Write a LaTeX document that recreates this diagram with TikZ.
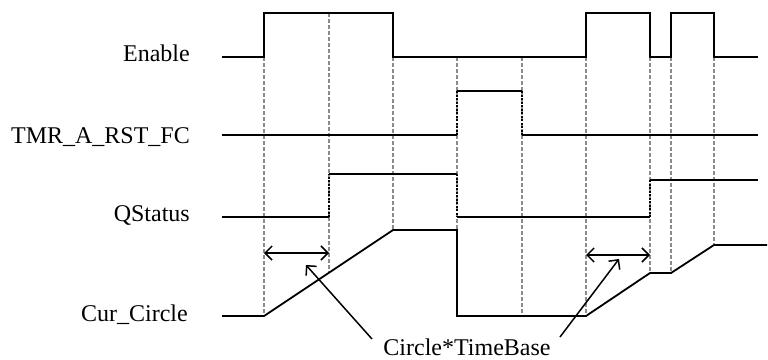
\documentclass[tikz,border=0pt]{standalone}
\usepackage{fontspec}
\setmainfont{Liberation Serif}
\usetikzlibrary{arrows.meta}
\begin{document}
\begin{tikzpicture}[x=1pt,y=-1pt,
  wave/.style={line width=1.8pt, line join=miter},
  guide/.style={draw=black!45, line width=1.2pt, dash pattern=on 4pt off 2pt},
  edgeline/.style={line width=1.5pt, dash pattern=on 2pt off 1.5pt},
  lbl/.style={font=\fontsize{24}{28}\selectfont, anchor=base east, inner sep=0pt},
  barb/.tip={Straight Barb[length=7pt,width=14pt,line width=1.5pt]},
  span/.style={line width=1.5pt, barb-barb},
  callout/.style={line width=1.5pt, -barb}]
\useasboundingbox (0,0) rectangle (768,359);
% guide lines
\foreach \x/\a/\b in {264/57/316, 329/13/273, 393/57/230, 457/57/230, 522/57/316, 586/57/316, 650/57/273, 671/57/273, 714/57/245}
  \draw[guide] (\x,\a) -- (\x,\b);
% labels
\node[lbl] (len) at (190,61) {Enable};
\node[lbl] (ltmr) at (190,143) {TMR\_A\_RST\_FC};
\node[lbl] (lq) at (190,221) {QStatus};
\node[lbl] (lc) at (188,321) {Cur\_Circle};
% Enable
\draw[wave] (222,57) -- (264,57) -- (264,13) -- (393,13) -- (393,57) -- (586,57) -- (586,13) -- (650,13) -- (650,57) -- (671,57) -- (671,13) -- (714,13) -- (714,57) -- (758,57);
% TMR_A_RST_FC
\draw[wave] (222,135) -- (457,135);
\draw[edgeline] (457,135) -- (457,91);
\draw[wave] (457,91) -- (522,91);
\draw[edgeline] (522,91) -- (522,135);
\draw[wave] (522,135) -- (758,135);
% QStatus
\draw[wave] (222,217) -- (329,217);
\draw[edgeline] (329,217) -- (329,174);
\draw[wave] (329,174) -- (457,174);
\draw[edgeline] (457,174) -- (457,217);
\draw[wave] (457,217) -- (650,217);
\draw[edgeline] (650,217) -- (650,180);
\draw[wave] (650,180) -- (758,180);
% Cur_Circle
\draw[wave] (222,316) -- (264,316) -- (393,230) -- (457,230) -- (457,316) -- (586,316) -- (650,273) -- (671,273) -- (714,245) -- (767,245);
% spans
\coordinate (a1) at (264,253);
\coordinate (b1) at (329,253);
\coordinate (a2) at (586,255);
\coordinate (b2) at (650,255);
\draw[span] (a1) -- (b1);
\draw[span] (a2) -- (b2);
% callout
\node[font=\fontsize{24}{28}\selectfont, anchor=base, inner sep=0pt] (cb) at (467,355) {Circle*TimeBase};
\coordinate (s1) at (372,339);
\coordinate (t1) at (306,265);
\coordinate (s2) at (560,337);
\coordinate (t2) at (619,259);
\draw[callout] (s1) -- (t1);
\draw[callout] (s2) -- (t2);
\end{tikzpicture}
\end{document}
